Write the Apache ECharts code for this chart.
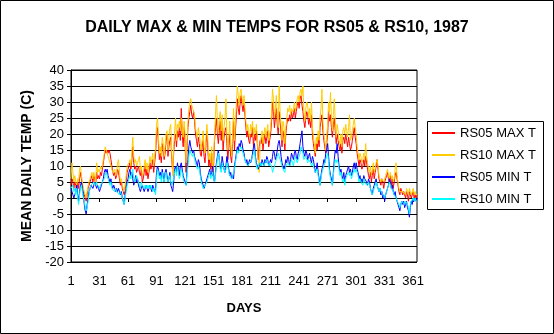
<!DOCTYPE html>
<html>
<head>
<meta charset="utf-8">
<script src="https://cdn.jsdelivr.net/npm/echarts@6/dist/echarts.min.js"></script>
<style>
  html, body { margin: 0; padding: 0; background: #fff; }
  #chart { width: 554px; height: 334px; }
</style>
</head>
<body>
<div id="chart"></div>
<script>
// Daily temperatures (deg C) for 1987, days 1..365
const days = [];
for (let d = 1; d <= 365; d++) days.push(String(d));

const rs05Max = [
  4, 6, 5, 3, 5, 4, 2, 5, 3, 6,
  8, 6, 4, 2, 1, 0, -1, 1, 3, 4,
  5, 6, 7, 5, 7, 6, 4, 8, 6, 7,
  6, 8, 7, 9, 11, 13, 15, 14, 15, 14,
  15, 14, 12, 10, 8, 7, 8, 6, 7, 9,
  8, 6, 4, 5, 3, 2, 1, 3, 5, 8,
  9, 10, 11, 9, 12, 16, 11, 9, 10, 8,
  9, 10, 8, 7, 9, 5, 6, 8, 10, 7,
  9, 6, 8, 11, 9, 10, 12, 8, 11, 14,
  20, 22, 17, 12, 14, 11, 17, 15, 12, 14,
  18, 20, 13, 16, 18, 19, 12, 8, 14, 18,
  20, 16, 21, 19, 22, 18, 28, 20, 16, 22,
  17, 8, 15, 22, 25, 27, 29, 26, 25, 27,
  24, 20, 18, 16, 19, 17, 14, 13, 16, 18,
  13, 11, 17, 21, 15, 10, 12, 9, 14, 7,
  10, 18, 22, 25, 20, 17, 21, 24, 18, 23,
  15, 19, 21, 22, 17, 12, 16, 20, 13, 11,
  17, 24, 15, 21, 26, 31, 28, 26, 30, 32,
  29, 27, 30, 26, 22, 19, 21, 18, 17, 20,
  19, 22, 16, 20, 18, 21, 17, 12, 16, 18,
  17, 19, 15, 18, 20, 17, 19, 21, 16, 18,
  20, 24, 30, 27, 22, 25, 28, 23, 20, 27,
  24, 20, 16, 21, 19, 15, 20, 23, 25, 24,
  26, 24, 27, 25, 26, 28, 25, 27, 29, 30,
  28, 31, 32, 29, 27, 24, 22, 25, 27, 26,
  23, 25, 22, 26, 20, 17, 15, 13, 17, 15,
  19, 16, 22, 24, 26, 21, 18, 16, 14, 17,
  20, 27, 24, 26, 22, 19, 23, 25, 21, 17,
  20, 18, 16, 15, 17, 14, 18, 19, 17, 20,
  18, 16, 19, 17, 15, 16, 18, 20, 22, 19,
  17, 14, 12, 10, 12, 11, 9, 10, 12, 10,
  13, 11, 9, 7, 6, 8, 5, 7, 9, 6,
  8, 10, 12, 9, 6, 5, 4, 6, 5, 3,
  5, 6, 7, 8, 6, 5, 7, 4, 6, 3,
  5, 7, 8, 6, 4, 2, 1, 3, 2, 1,
  2, 1, 0, 2, 1, -1, 2, 1, 0, 1,
  2, 0, 1, 0, 1
];

const rs10Max = [
  6, 11, 8, 5, 7, 5, 4, 6, 5, 9,
  10, 7, 5, 3, 2, 1, 0, 2, 4, 5,
  6, 7, 8, 6, 8, 7, 5, 11, 8, 9,
  8, 10, 9, 10, 12, 14, 16, 15, 14, 13,
  12, 11, 10, 9, 8, 8, 9, 7, 8, 11,
  12, 8, 5, 6, 4, 3, 2, 4, 7, 10,
  10, 11, 12, 10, 14, 19, 13, 11, 12, 10,
  11, 12, 13, 9, 10, 7, 8, 10, 12, 9,
  11, 8, 10, 13, 11, 12, 14, 10, 13, 16,
  23, 25, 19, 14, 16, 13, 19, 17, 13, 16,
  20, 21, 15, 19, 22, 23, 14, 7, 16, 21,
  25, 18, 23, 22, 24, 21, 25, 22, 19, 24,
  20, 11, 17, 24, 28, 30, 31, 29, 28, 27,
  26, 22, 20, 19, 22, 20, 17, 15, 18, 21,
  16, 14, 19, 23, 18, 12, 14, 11, 16, 8,
  12, 20, 26, 32, 24, 20, 25, 27, 21, 26,
  18, 22, 25, 31, 20, 15, 19, 24, 16, 13,
  20, 28, 18, 24, 30, 35, 32, 29, 33, 34,
  31, 29, 32, 28, 24, 21, 23, 20, 19, 23,
  21, 24, 19, 22, 20, 23, 19, 11, 8, 17,
  19, 21, 17, 20, 22, 19, 21, 23, 18, 20,
  22, 27, 34, 31, 25, 28, 32, 26, 22, 35,
  27, 23, 18, 24, 22, 17, 22, 25, 28, 27,
  29, 26, 28, 27, 28, 30, 27, 29, 31, 32,
  30, 33, 34, 32, 35, 27, 24, 28, 30, 29,
  25, 28, 24, 30, 22, 19, 17, 14, 19, 17,
  21, 18, 25, 28, 34, 24, 20, 18, 15, 19,
  23, 30, 27, 33, 25, 21, 26, 31, 24, 19,
  23, 21, 18, 17, 20, 16, 21, 22, 20, 23,
  21, 19, 22, 26, 18, 19, 21, 23, 25, 22,
  20, 16, 14, 12, 14, 13, 11, 12, 14, 12,
  17, 13, 11, 9, 8, 10, 7, 9, 11, 8,
  9, 11, 12, 10, 7, 6, 5, 6, 6, 5,
  6, 7, 8, 9, 7, 6, 8, 6, 7, 5,
  6, 9, 11, 7, 5, 3, 2, 2, 2, 2,
  2, 2, 1, 3, 2, 1, 3, 2, 1, 2,
  3, 1, 2, 1, 1
];

const rs05Min = [
  3, 2, 1, 0, 1, 2, 4, 1, -1, 2,
  4, 5, 3, 1, -2, -4, -5, -2, 0, 2,
  3, 4, 4, 3, 4, 5, 4, 3, 4, 3,
  2, 3, 4, 5, 6, 8, 9, 8, 9, 7,
  6, 5, 6, 4, 3, 4, 3, 2, 3, 2,
  3, 2, 1, 2, 0, -1, -2, 1, 3, 5,
  6, 8, 9, 7, 8, 6, 4, 5, 7, 5,
  6, 4, 3, 2, 3, 4, 3, 2, 3, 4,
  3, 2, 3, 4, 3, 2, 4, 3, 2, 3,
  8, 10, 9, 7, 8, 6, 9, 7, 5, 8,
  9, 7, 5, 6, 8, 4, 3, 2, 5, 9,
  10, 8, 11, 9, 7, 10, 11, 9, 7, 6,
  5, 4, 8, 12, 16, 18, 16, 15, 14, 15,
  13, 12, 11, 10, 12, 11, 8, 6, 5, 4,
  3, 4, 5, 6, 7, 8, 9, 7, 8, 10,
  6, 5, 8, 11, 13, 15, 12, 10, 9, 13,
  11, 9, 8, 10, 13, 11, 9, 7, 8, 6,
  7, 6, 10, 12, 14, 16, 15, 17, 16, 18,
  17, 15, 14, 12, 11, 12, 10, 11, 12, 11,
  12, 14, 16, 17, 13, 11, 10, 9, 10, 11,
  10, 12, 11, 10, 12, 11, 13, 12, 10, 11,
  12, 11, 13, 15, 14, 12, 13, 15, 17, 18,
  16, 13, 11, 10, 9, 10, 12, 11, 13, 12,
  10, 12, 14, 13, 12, 14, 15, 13, 12, 14,
  15, 17, 19, 21, 16, 14, 13, 15, 14, 12,
  13, 14, 12, 11, 13, 12, 10, 8, 9, 11,
  8, 6, 4, 7, 9, 10, 12, 11, 14, 15,
  17, 13, 9, 7, 6, 4, 8, 12, 15, 14,
  17, 13, 10, 8, 9, 7, 6, 8, 5, 7,
  8, 9, 10, 8, 9, 7, 8, 10, 11, 9,
  11, 9, 8, 6, 7, 5, 6, 5, 7, 6,
  6, 5, 4, 6, 5, 3, 2, 1, 3, 4,
  5, 6, 4, 3, 2, 3, 1, 2, 0, 1,
  -1, 1, 2, 3, 4, 6, 5, 3, 4, 2,
  1, 2, 0, -1, -2, -3, -4, -2, -1, -2,
  -1, -3, -2, -1, -3, -4, -6, -3, -1, -2,
  0, -1, 0, -1, 0
];

const rs10Min = [
  3, 3, 4, 2, 3, 1, 3, 0, -2, 1,
  3, 4, 2, 0, -1, -3, -4, -3, -1, 1,
  3, 4, 4, 4, 5, 4, 4, 5, 4, 4,
  3, 4, 4, 5, 5, 6, 7, 8, 7, 6,
  5, 4, 5, 3, 3, 3, 2, 3, 2, 2,
  2, 1, 2, 1, 0, -1, -2, 0, 2, 4,
  5, 6, 7, 6, 8, 9, 6, 5, 6, 7,
  6, 5, 4, 3, 5, 4, 4, 3, 4, 3,
  4, 3, 4, 3, 4, 3, 2, 3, 2, 1,
  6, 9, 8, 6, 7, 5, 8, 6, 5, 7,
  8, 6, 5, 6, 7, 5, 4, 5, 6, 8,
  9, 7, 10, 8, 6, 7, 9, 8, 6, 5,
  5, 4, 7, 10, 13, 15, 14, 14, 13, 14,
  12, 11, 10, 9, 10, 9, 7, 5, 4, 3,
  3, 4, 4, 5, 6, 7, 8, 6, 7, 8,
  6, 5, 7, 10, 12, 14, 12, 9, 8, 11,
  10, 9, 8, 9, 11, 10, 8, 7, 7, 6,
  7, 8, 9, 11, 13, 15, 14, 15, 15, 16,
  15, 14, 13, 12, 11, 11, 10, 10, 11, 11,
  12, 13, 14, 15, 12, 10, 9, 10, 10, 11,
  10, 11, 11, 10, 11, 11, 12, 12, 10, 11,
  11, 10, 8, 9, 10, 11, 12, 13, 14, 13,
  12, 11, 10, 9, 9, 8, 10, 10, 11, 11,
  10, 11, 12, 11, 10, 12, 13, 12, 11, 12,
  13, 14, 16, 15, 14, 12, 12, 13, 12, 11,
  12, 12, 11, 10, 11, 10, 9, 8, 8, 9,
  7, 5, 4, 6, 8, 9, 10, 10, 12, 13,
  14, 11, 8, 6, 5, 4, 7, 10, 12, 11,
  12, 11, 9, 7, 8, 6, 5, 6, 4, 6,
  7, 7, 8, 7, 8, 6, 7, 8, 9, 8,
  9, 8, 7, 5, 6, 5, 5, 4, 6, 5,
  5, 4, 4, 5, 4, 3, 2, 1, 2, 3,
  4, 5, 4, 3, 2, 3, 2, 2, 1, 1,
  0, 1, 2, 3, 4, 5, 4, 3, 3, 2,
  1, 1, 0, -1, -1, -2, -3, -2, -1, -1,
  -1, -2, -1, -1, -2, -3, -5, -2, -1, -1,
  0, -1, 0, -1, -1
];

const seriesNames = ['RS05 MAX T', 'RS10 MAX T', 'RS05 MIN T', 'RS10 MIN T'];
const seriesColors = ['#ff0000', '#ffcc00', '#0000ff', '#00ffff'];
const seriesData = [rs05Max, rs10Max, rs05Min, rs10Min];

const FONT = '"Liberation Sans", Arial, sans-serif';

const chart = echarts.init(document.getElementById('chart'), null, { renderer: 'canvas' });

chart.setOption({
  animation: false,
  backgroundColor: '#ffffff',
  title: {
    text: 'DAILY MAX & MIN TEMPS FOR RS05 & RS10, 1987',
    left: 'center',
    top: 20,
    padding: 0,
    textStyle: { fontFamily: FONT, fontSize: 16, fontWeight: 'bold', color: '#000' }
  },
  grid: {
    left: 71, right: 137, top: 70, bottom: 72,
    show: true, borderColor: '#000', borderWidth: 1, backgroundColor: '#fff',
    containLabel: false
  },
  legend: {
    orient: 'vertical',
    left: 432,
    top: 126,
    padding: 0,
    itemWidth: 23,
    itemHeight: 2,
    itemGap: 8,
    icon: 'rect',
    selectedMode: false,
    textStyle: { fontFamily: FONT, fontSize: 13, color: '#000', lineHeight: 14 },
    data: seriesNames
  },
  xAxis: {
    type: 'category',
    data: days,
    boundaryGap: false,
    name: 'DAYS',
    nameLocation: 'middle',
    nameGap: 40,
    nameTextStyle: { fontFamily: FONT, fontSize: 13, fontWeight: 'bold', color: '#000' },
    axisLine: { lineStyle: { color: '#000', width: 1 } },
    axisTick: { show: true, interval: 29, length: 4, inside: false, lineStyle: { color: '#000' } },
    axisLabel: { interval: 29, margin: 13, fontFamily: FONT, fontSize: 13, color: '#000' },
    splitLine: { show: false }
  },
  yAxis: {
    type: 'value',
    min: -20, max: 40, interval: 5,
    name: 'MEAN DAILY TEMP (C)',
    nameLocation: 'middle',
    nameGap: 36,
    nameRotate: 90,
    nameTextStyle: { fontFamily: FONT, fontSize: 14, fontWeight: 'bold', color: '#000' },
    axisLine: { show: true, lineStyle: { color: '#000', width: 1 } },
    axisTick: { show: true, length: 4, lineStyle: { color: '#000' } },
    axisLabel: { margin: 7, fontFamily: FONT, fontSize: 13, color: '#000' },
    splitLine: { show: true, lineStyle: { color: '#000', width: 1 } }
  },
  series: seriesNames.map((name, i) => ({
    name,
    type: 'line',
    data: seriesData[i],
    showSymbol: false,
    symbol: 'none',
    lineStyle: { color: seriesColors[i], width: 1 },
    itemStyle: { color: seriesColors[i] },
    emphasis: { disabled: true },
    z: 2 + i
  })),
  graphic: [
    {
      type: 'rect',
      shape: { x: 427.5, y: 121.5, width: 116, height: 88 },
      style: { fill: null, stroke: '#000', lineWidth: 1 },
      z: 100
    },
    {
      type: 'rect',
      shape: { x: 0.5, y: 0.5, width: 553, height: 333 },
      style: { fill: null, stroke: '#000', lineWidth: 1 },
      z: 100
    }
  ]
});
</script>
</body>
</html>
